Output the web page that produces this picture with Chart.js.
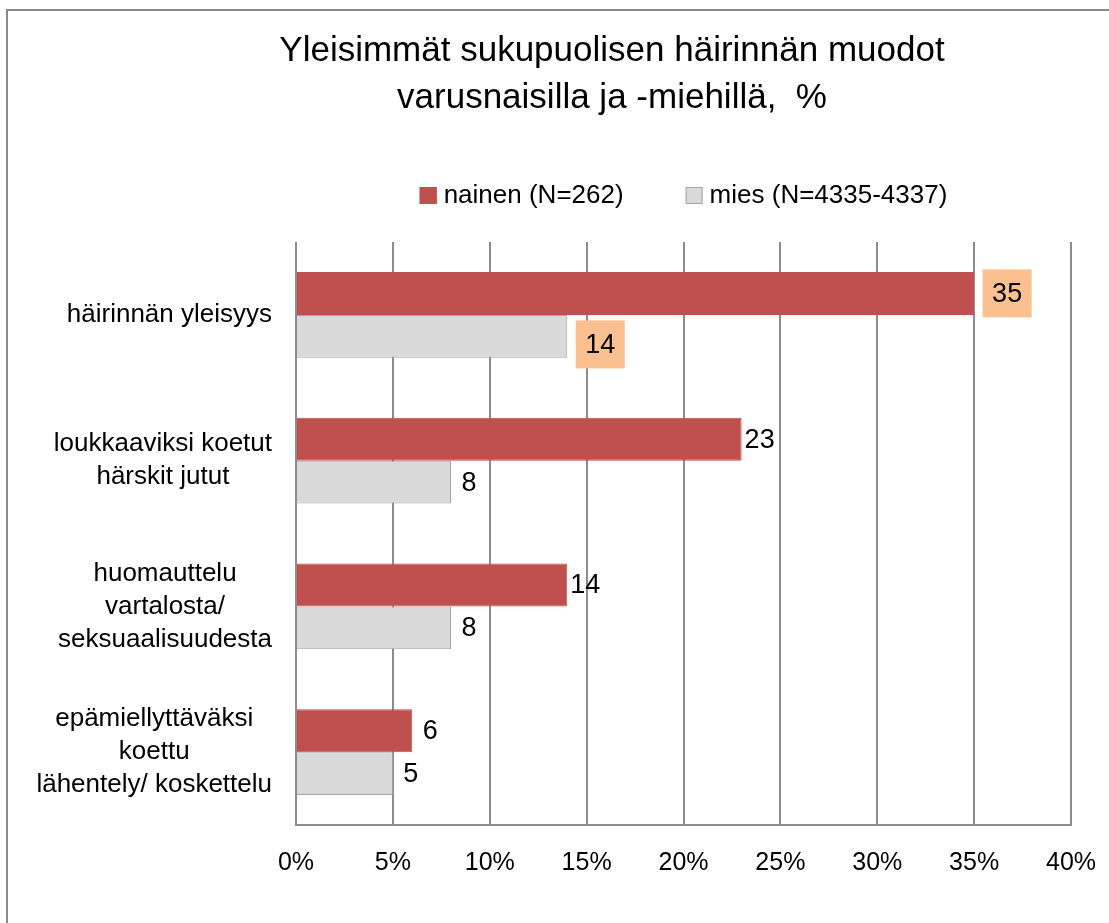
<!DOCTYPE html>
<html lang="fi">
<head>
    <meta charset="UTF-8">
    <title>Yleisimmät sukupuolisen häirinnän muodot</title>
    <script src="https://cdn.jsdelivr.net/npm/chart.js"></script>
    <style>
        body {
            margin: 0;
            background: #fff;
            overflow: hidden;
        }
        canvas {
            position: absolute;
            left: 0;
            top: 0;
        }
        .frame {
            position: absolute;
            left: 6px;
            top: 9px;
            width: 1300px;
            height: 1100px;
            border: 2px solid #8a8a8a;
            pointer-events: none;
        }
    </style>
</head>
<body>
    <canvas id="chart" width="1109" height="923"></canvas>
    <div class="frame"></div>

    <script>
        // categories (one array of lines per label)
        const categories = [
            ['häirinnän yleisyys'],
            ['loukkaaviksi koetut', 'härskit jutut'],
            ['huomauttelu', 'vartalosta/', 'seksuaalisuudesta'],
            ['epämiellyttäväksi', 'koettu', 'lähentely/ koskettelu']
        ];
        const seriesNames = ['nainen (N=262)', 'mies (N=4335-4337)'];
        const nainen = [35, 23, 14, 6];
        const mies = [14, 8, 8, 5];
        // labels drawn on an orange box
        const highlighted = [true, false, false, false];
        const xMin = 0;
        const xMax = 40;
        const xStep = 5;

        const FONT = '"Liberation Sans", Arial, sans-serif';
        Chart.defaults.font.family = FONT;
        Chart.defaults.color = '#000';

        // category labels: block right-aligned, lines centered within block
        const categoryLabels = {
            id: 'categoryLabels',
            afterDraw(chart) {
                const ctx = chart.ctx;
                const yScale = chart.scales.y;
                const lineH = 33;
                ctx.save();
                ctx.font = '26px ' + FONT;
                ctx.fillStyle = '#000';
                ctx.textAlign = 'center';
                ctx.textBaseline = 'middle';
                categories.forEach((lines, i) => {
                    const maxW = Math.max(...lines.map(l => ctx.measureText(l).width));
                    const cx = chart.chartArea.left - 24 - maxW / 2;
                    const yc = yScale.getPixelForValue(i);
                    const y0 = yc - (lines.length - 1) * lineH / 2;
                    lines.forEach((l, k) => ctx.fillText(l, cx, y0 + k * lineH));
                });
                ctx.restore();
            }
        };

        // value labels next to bar ends
        const valueLabels = {
            id: 'valueLabels',
            afterDatasetsDraw(chart) {
                const ctx = chart.ctx;
                ctx.save();
                ctx.font = '27px ' + FONT;
                ctx.textAlign = 'center';
                ctx.textBaseline = 'middle';
                chart.data.datasets.forEach((ds, d) => {
                    chart.getDatasetMeta(d).data.forEach((bar, i) => {
                        const txt = String(ds.data[i]);
                        if (highlighted[i]) {
                            const cx = bar.x + 33;
                            const cy = bar.y + (d === 1 ? 8 : 0);
                            ctx.fillStyle = '#FAC090';
                            ctx.fillRect(cx - 24.5, cy - 24, 49, 48);
                            ctx.fillStyle = '#000';
                            ctx.fillText(txt, cx, cy + 1);
                        } else {
                            ctx.fillStyle = '#000';
                            ctx.fillText(txt, bar.x + 18, bar.y + 1);
                        }
                    });
                });
                ctx.restore();
            }
        };

        // legend centered over the plot area
        const plotLegend = {
            id: 'plotLegend',
            afterDraw(chart) {
                const ctx = chart.ctx;
                const box = 17, gap = 7, itemGap = 62, y = 195.5;
                ctx.save();
                ctx.font = '26px ' + FONT;
                ctx.textBaseline = 'middle';
                const widths = chart.data.datasets.map(ds => ctx.measureText(ds.label).width);
                let total = widths.reduce((a, w) => a + box + gap + w, 0) + itemGap * (widths.length - 1);
                let x = (chart.chartArea.left + chart.chartArea.right) / 2 - total / 2;
                chart.data.datasets.forEach((ds, d) => {
                    ctx.fillStyle = ds.backgroundColor;
                    ctx.fillRect(x, y - box / 2, box, box);
                    ctx.strokeStyle = ds.borderColor;
                    ctx.lineWidth = 1;
                    ctx.strokeRect(x + 0.5, y - box / 2 + 0.5, box - 1, box - 1);
                    ctx.fillStyle = '#000';
                    ctx.fillText(ds.label, x + box + gap, y);
                    x += box + gap + widths[d] + itemGap;
                });
                ctx.restore();
            }
        };

        const ctx = document.getElementById('chart').getContext('2d');
        new Chart(ctx, {
            type: 'bar',
            data: {
                labels: categories,
                datasets: [{
                    label: seriesNames[0],
                    data: nainen,
                    backgroundColor: '#C0504D',
                    borderColor: '#C0504D',
                    borderWidth: 1
                }, {
                    label: seriesNames[1],
                    data: mies,
                    backgroundColor: '#D9D9D9',
                    borderColor: '#A6A6A6',
                    borderWidth: 1
                }]
            },
            plugins: [categoryLabels, valueLabels, plotLegend],
            options: {
                indexAxis: 'y',
                responsive: false,
                animation: false,
                devicePixelRatio: 1,
                events: [],
                categoryPercentage: 0.59,
                barPercentage: 1,
                layout: {
                    padding: { top: 28, left: 153, right: 38, bottom: 0 }
                },
                plugins: {
                    legend: { display: false },
                    tooltip: { enabled: false },
                    title: {
                        display: true,
                        text: ['Yleisimmät sukupuolisen häirinnän muodot', 'varusnaisilla ja -miehillä,  %'],
                        color: '#000',
                        font: { size: 35, weight: 'normal', lineHeight: 47 / 35 },
                        padding: { top: 0, bottom: 120 }
                    }
                },
                scales: {
                    x: {
                        min: xMin,
                        max: xMax,
                        ticks: {
                            stepSize: xStep,
                            padding: 3,
                            color: '#000',
                            font: { size: 25 },
                            maxRotation: 0,
                            callback: v => v + '%'
                        },
                        grid: {
                            color: '#8c8c8c',
                            lineWidth: 2,
                            drawTicks: true,
                            tickLength: 20,
                            tickColor: 'rgba(0,0,0,0)'
                        },
                        border: { color: '#8c8c8c', width: 2 },
                        afterFit: scale => { scale.height = 98; }
                    },
                    y: {
                        ticks: { display: false },
                        grid: { display: false },
                        border: { display: false },
                        afterFit: scale => { scale.width = 143; }
                    }
                }
            }
        });
    </script>
</body>
</html>
